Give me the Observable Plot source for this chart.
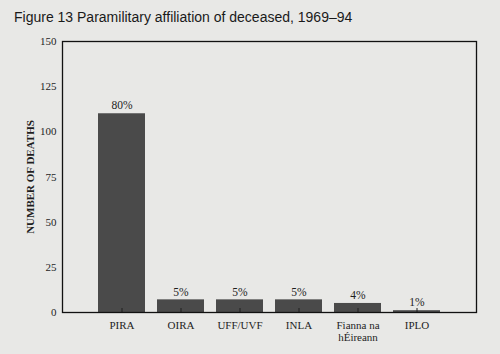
<!DOCTYPE html>
<html>
<head>
<meta charset="utf-8">
<script src="https://cdn.jsdelivr.net/npm/d3@7"></script>
<script src="https://cdn.jsdelivr.net/npm/@observablehq/plot@0.6"></script>
<style>
  html, body { margin: 0; padding: 0; background: #e8e8e6; }
  #wrap { width: 500px; height: 354px; overflow: hidden; }
  #title { height: 30px; box-sizing: border-box; padding: 10px 0 0 14px;
    font-family: "Liberation Sans", Arial, sans-serif; font-size: 14px; color: #1a1a1a; line-height: 15px; }
  g[aria-label="y-axis label"] text { font-weight: bold; }
</style>
</head>
<body>
<div id="wrap">
  <div id="title">Figure 13 Paramilitary affiliation of deceased, 1969–94</div>
  <div id="chart"></div>
</div>
<script>
const groups = ["PIRA", "OIRA", "UFF/UVF", "INLA", "Fianna na\nhÉireann", "IPLO"];
const deaths = [110, 7, 7, 7, 5, 1];
const percents = ["80%", "5%", "5%", "5%", "4%", "1%"];
const yTicks = [0, 25, 50, 75, 100, 125, 150];

const data = groups.map((g, i) => ({group: g, deaths: deaths[i], pct: percents[i]}));

const chart = Plot.plot({
  width: 500,
  height: 324,
  marginTop: 11,
  marginBottom: 42,
  marginLeft: 62,
  marginRight: 24,
  style: {background: "transparent", fontFamily: "'Liberation Serif', 'Times New Roman', serif", fontSize: "11px", color: "#1e1e1e"},
  x: {domain: groups, padding: 0.2, paddingOuter: 0.6, label: null},
  y: {domain: [0, 150], ticks: yTicks, label: "NUMBER OF DEATHS"},
  marks: [
    Plot.barY(data, {x: "group", y: "deaths", fill: "#4a4a4a"}),
    Plot.tickX(data, {x: "group", stroke: "#1e1e1e", strokeWidth: 1, insetTop: 267}),
    Plot.text(data, {x: "group", y: "deaths", text: "pct", dy: -8, fill: "#1e1e1e", fontSize: 11.5}),
    Plot.axisY({ticks: yTicks, tickSize: 0, tickPadding: 6, label: "NUMBER OF DEATHS", labelAnchor: "center", labelArrow: "none", labelOffset: 36, fontSize: 11}),
    Plot.axisX({tickSize: 0, tickPadding: 8, fontSize: 11, lineHeight: 1.1}),
    Plot.frame({stroke: "#111", strokeWidth: 1.3})
  ]
});
document.getElementById("chart").appendChild(chart);
</script>
</body>
</html>
